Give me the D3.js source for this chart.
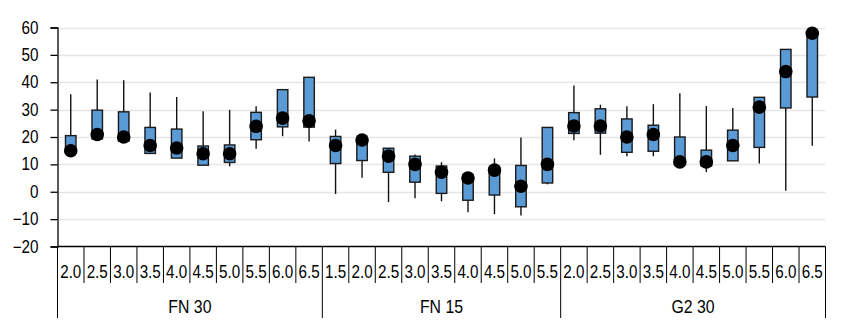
<!DOCTYPE html>
<html><head><meta charset="utf-8">
<script src="https://cdn.jsdelivr.net/npm/d3@7"></script>
<style>body{margin:0;background:#fff}svg{display:block}text{font-family:"Liberation Sans",Arial,sans-serif;fill:#000}</style>
</head><body><svg id="c" width="852" height="332"></svg>
<script>
const categories = ["2.0","2.5","3.0","3.5","4.0","4.5","5.0","5.5","6.0","6.5",
  "1.5","2.0","2.5","3.0","3.5","4.0","4.5","5.0","5.5",
  "2.0","2.5","3.0","3.5","4.0","4.5","5.0","5.5","6.0","6.5"];
const groups = [{name:"FN 30",count:10},{name:"FN 15",count:9},{name:"G2 30",count:10}];
const whiskerLow  = [14,19,18.5,14,12.3,9.7,9.3,15.7,20.3,18.4, -0.8,5.1,-3.8,-2.4,-3.5,-7.5,-8.2,-8.7,2.7, 18.8,13.5,13,13,10.9,7.2,11.3,10.3,0.4,16.8];
const boxLow      = [14,19.3,18.5,14,12.3,9.7,10.7,19,23.7,23.6, 10.3,11.4,7.1,3.5,-0.6,-3.1,-1.2,-5.5,3.2, 21.3,21.4,14.4,14.8,10.9,9.4,11.3,16.2,30.6,34.6];
const boxHigh     = [20.5,29.8,29.2,23.5,22.9,16.7,17.1,29,37.3,41.8, 20.2,19.5,15.9,13,9.4,6,8.9,9.6,23.5, 28.9,30.3,26.6,24.3,20,15.2,22.5,34.5,52,58.3];
const whiskerHigh = [35.6,41,40.7,36.3,34.6,29.4,29.9,31.2,37.3,41.8, 22.7,19.5,15.9,13.6,10.8,6,12.2,19.8,23.5, 38.8,31.8,31.2,32,36,31.3,30.6,34.5,52,58.3];
const dotValue    = [15,20.9,20,16.9,16,13.9,13.9,23.9,26.9,25.9, 16.9,18.9,13,10,7.1,5,7.9,2,10, 24,24,20,20.9,10.9,10.9,16.9,30.9,43.9,57.9];
const yTicks = [-20,-10,0,10,20,30,40,50,60];

const svg = d3.select("#c");
const L = 57.5, R = 825.5, T = 27.5, B = 246.5;
const y = d3.scaleLinear().domain([-20,60]).range([B,T]);
const idx = d3.range(categories.length);
const x = d3.scaleBand().domain(idx).range([L,R]).padding(0);
const cx = i => x(i) + x.bandwidth()/2;

// gridlines
svg.append("g").selectAll("line").data(yTicks.filter(t=>t>-20)).join("line")
  .attr("x1",L).attr("x2",R).attr("y1",d=>Math.round(y(d))+0.5).attr("y2",d=>Math.round(y(d))+0.5)
  .attr("stroke","#e6e6e6").attr("stroke-width",1.5);

// y axis
const ySx = 0.87;
const ya = svg.append("g").attr("transform",`translate(${L},0)`)
  .call(d3.axisLeft(y).tickValues(yTicks).tickSize(7).tickPadding(11).tickFormat(d3.format("d")));
ya.select(".domain").attr("stroke","#000").attr("stroke-width",1.3);
ya.selectAll(".tick line").attr("stroke","#000").attr("stroke-width",1.3);
ya.selectAll(".tick text").attr("font-size",17.5).attr("font-family",null).attr("fill","#000")
  .attr("x",-19/ySx).attr("transform",`scale(${ySx},1)`);

// bottom axis line
svg.append("line").attr("x1",L).attr("x2",R).attr("y1",B).attr("y2",B).attr("stroke","#000").attr("stroke-width",1.3);

// category separators
const boundaries = d3.range(categories.length+1);
let gb = [0]; groups.reduce((a,g)=>{a+=g.count; gb.push(a); return a;},0);
svg.append("g").selectAll("line").data(boundaries).join("line")
  .attr("x1",i=> i<categories.length ? x(i) : R).attr("x2",i=> i<categories.length ? x(i) : R)
  .attr("y1",B).attr("y2",i=> gb.includes(i) ? 318 : 283)
  .attr("stroke","#000").attr("stroke-width",1);

// category labels
svg.append("g").selectAll("text").data(idx).join("text")
  .attr("transform",i=>`translate(${cx(i)},277.5) scale(0.8,1)`)
  .attr("text-anchor","middle").attr("font-size",19)
  .text(i=>categories[i]);

// group labels
svg.append("g").selectAll("text").data(groups).join("text")
  .attr("transform",(g,k)=>`translate(${(x(gb[k]) + (gb[k+1]<categories.length ? x(gb[k+1]) : R))/2},313) scale(0.88,1)`)
  .attr("text-anchor","middle").attr("font-size",18)
  .text(g=>g.name);

// whiskers
svg.append("g").selectAll("line").data(idx).join("line")
  .attr("x1",cx).attr("x2",cx).attr("y1",i=>y(whiskerHigh[i])).attr("y2",i=>y(whiskerLow[i]))
  .attr("stroke","#111").attr("stroke-width",1.4);

// boxes
const bw = 10.5;
svg.append("g").selectAll("rect").data(idx).join("rect")
  .attr("x",i=>cx(i)-bw/2).attr("width",bw)
  .attr("y",i=>y(boxHigh[i])).attr("height",i=>y(boxLow[i])-y(boxHigh[i]))
  .attr("fill","#5b9bd5").attr("stroke","#1a1a1a").attr("stroke-width",1.4);

// dots
svg.append("g").selectAll("circle").data(idx).join("circle")
  .attr("cx",cx).attr("cy",i=>y(dotValue[i])).attr("r",6.8).attr("fill","#000");
</script></body></html>
